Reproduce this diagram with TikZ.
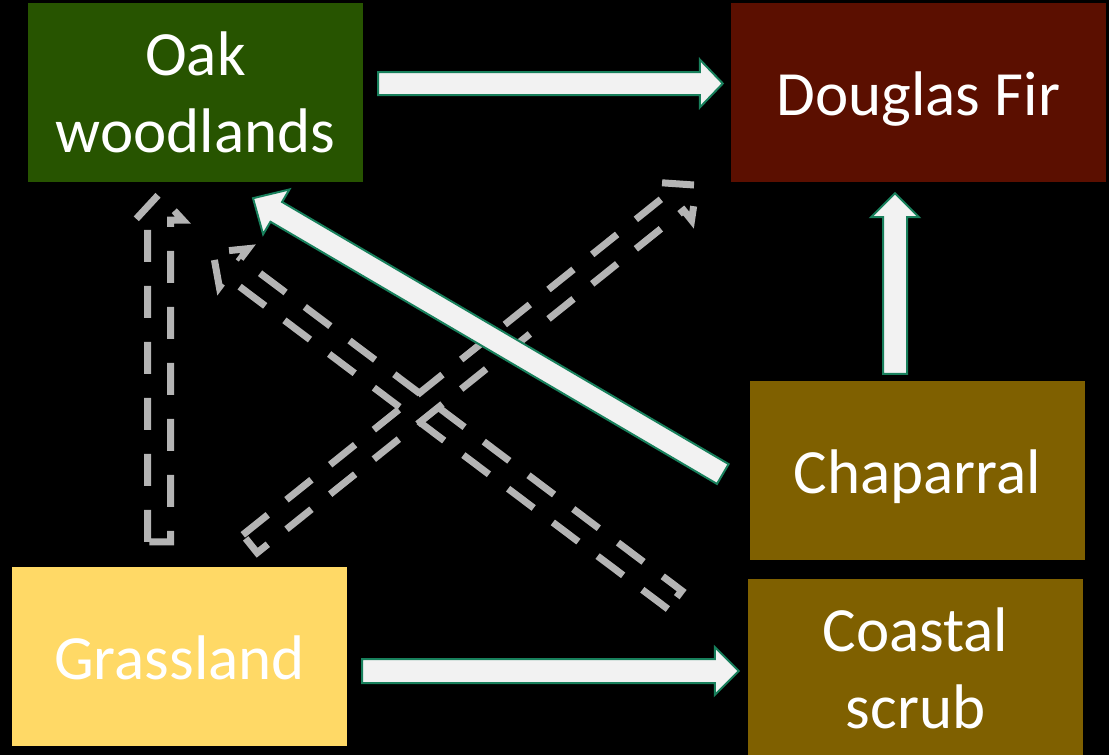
\documentclass[tikz,border=0pt]{standalone}
\usepackage{fontspec}
\setmainfont{Carlito}
\usetikzlibrary{calc}
\definecolor{oakc}{RGB}{39,84,0}
\definecolor{firc}{RGB}{91,15,0}
\definecolor{chapc}{RGB}{127,96,0}
\definecolor{grassc}{RGB}{255,217,102}
\definecolor{arrfill}{RGB}{242,242,242}
\definecolor{arredge}{RGB}{24,128,92}
\definecolor{dashc}{RGB}{180,180,180}
% #1 style, #2 tail, #3 tip, #4 half shaft, #5 half head, #6 head length
\newcommand\blockarr[6]{%
  \coordinate (ba-c) at ($(#3)!#6!(#2)$);
  \draw[#1] ($(#2)!#4!90:(#3)$) -- ($(ba-c)!#4!-90:(#2)$) -- ($(ba-c)!#5!-90:(#2)$)
    -- (#3) -- ($(ba-c)!#5!90:(#2)$) -- ($(ba-c)!#4!90:(#2)$) -- ($(#2)!#4!-90:(#3)$) -- cycle;
}
\begin{document}
\begin{tikzpicture}[x=1pt,y=-1pt,
  box/.style={rectangle, minimum width=335pt, minimum height=179pt, inner sep=0pt,
    text=white, align=center, font=\fontsize{63}{77}\selectfont},
  solidarr/.style={fill=arrfill, draw=arredge, line width=2pt},
  dasharr/.style={draw=dashc, line width=7pt, dash pattern=on 32pt off 24pt}]
\useasboundingbox (0,0) rectangle (1109,755);
\clip (0,0) rectangle (1109,755);
\fill[black] (0,0) rectangle (1109,755);
% boxes
\node[box, fill=oakc] (oak) at (195.5,92.5) {Oak\\woodlands};
\node[box, fill=firc, minimum width=375pt, text height=45pt, text depth=0pt] (doug) at (918.5,92.5) {Douglas Fir};
\node[box, fill=chapc, text height=45pt, text depth=0pt] (chap) at (917.5,470.5) {Chaparral};
\node[box, fill=chapc] (coast) at (915.5,668.5) {Coastal\\scrub};
\node[box, fill=grassc, text height=45pt, text depth=0pt] (grass) at (179.5,656.5) {Grassland};
% connector end points
\coordinate (d1t) at ($(grass.north)+(-20.5,-25)$);
\coordinate (d1h) at ($(oak.south)+(-36.5,12)$);
\coordinate (d2t) at ($(grass.north)+(70.5,-23)$);
\coordinate (d2h) at ($(doug.south west)+(-34,3)$);
\coordinate (d3t) at ($(coast.north west)+(-73,21)$);
\coordinate (d3h) at ($(oak.south)+(17.5,70)$);
\coordinate (s1t) at ($(oak.east)+(15,-9)$);
\coordinate (s1h) at ($(doug.west)+(-8,-9)$);
\coordinate (s2t) at ($(chap.north)+(-22.5,-7)$);
\coordinate (s2h) at ($(doug.south)+(-23.5,11)$);
\coordinate (s3t) at ($(grass.east)+(15,14.5)$);
\coordinate (s3h) at ($(coast.west)+(-9,2.5)$);
\coordinate (s4t) at ($(chap.west)+(-27,3.5)$);
\coordinate (s4h) at ($(oak.south)+(57.5,16)$);
% dashed arrows
\blockarr{dasharr}{d1t}{d1h}{11.5pt}{24pt}{26pt}
\blockarr{dasharr}{d2t}{d2h}{11.5pt}{24pt}{26pt}
\blockarr{dasharr}{d3t}{d3h}{11.5pt}{24pt}{26pt}
% solid arrows
\blockarr{solidarr}{s1t}{s1h}{11.5pt}{24pt}{23pt}
\blockarr{solidarr}{s2t}{s2h}{12pt}{24pt}{24pt}
\blockarr{solidarr}{s3t}{s3h}{12pt}{24pt}{24pt}
\blockarr{solidarr}{s4t}{s4h}{11.5pt}{26pt}{27pt}
\end{tikzpicture}
\end{document}
